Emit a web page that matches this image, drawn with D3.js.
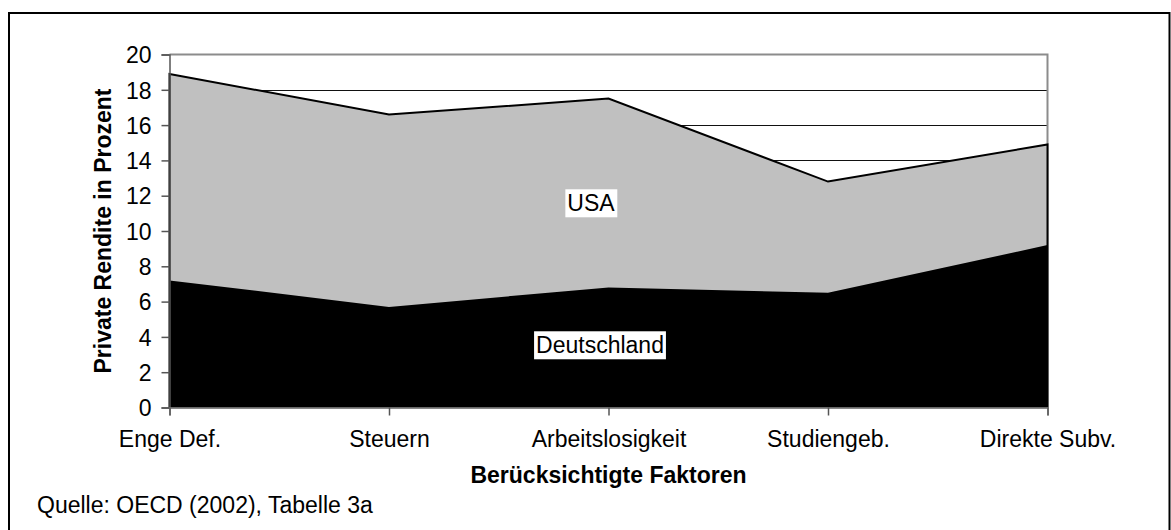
<!DOCTYPE html>
<html>
<head>
<meta charset="utf-8">
<script src="https://cdnjs.cloudflare.com/ajax/libs/d3/7.8.5/d3.min.js"></script>
<style>
  body { margin: 0; background: #fff; }
  svg text { font-family: "Liberation Sans", Arial, sans-serif; fill: #000; }
</style>
</head>
<body>
<svg id="chart" width="1171" height="530"></svg>
<script>
// data
var categories = ["Enge Def.", "Steuern", "Arbeitslosigkeit", "Studiengeb.", "Direkte Subv."];
var usa = [18.9, 16.6, 17.5, 12.8, 14.9];
var deutschland = [7.2, 5.7, 6.8, 6.5, 9.2];
var yTicks = [0, 2, 4, 6, 8, 10, 12, 14, 16, 18, 20];

var m = { top: 54.5, right: 123.5, bottom: 122.5, left: 169.5 },
    W = 1171, H = 530;

var svg = d3.select("#chart");

// outer frame
svg.append("path")
    .attr("d", "M9,531V13H1169.5V531")
    .attr("fill", "none")
    .attr("stroke", "#000")
    .attr("stroke-width", 2);

var x = d3.scalePoint()
    .domain(categories)
    .range([m.left, W - m.right]);

var y = d3.scaleLinear()
    .domain([0, 20])
    .range([H - m.bottom, m.top]);

var g = svg.append("g");

// gridlines
g.selectAll(".grid")
    .data(yTicks.filter(function(d) { return d > 0 && d < 20; }))
    .enter()
    .append("line")
    .attr("x1", m.left)
    .attr("x2", W - m.right)
    .attr("y1", function(d) { return Math.round(y(d)) + 0.5; })
    .attr("y2", function(d) { return Math.round(y(d)) + 0.5; })
    .attr("stroke", "#111")
    .attr("stroke-width", 1);

// plot frame top/right (grey)
g.append("path")
    .attr("d", "M" + m.left + "," + y(20) + "H" + (W - m.right) + "V" + y(0))
    .attr("fill", "none")
    .attr("stroke", "#8c8c8c")
    .attr("stroke-width", 2);

var area = d3.area()
    .x(function(d, i) { return x(categories[i]); })
    .y0(y(0))
    .y1(function(d) { return y(d); });

g.append("path")
    .datum(usa)
    .attr("d", area)
    .attr("fill", "#c0c0c0")
    .attr("stroke", "#000")
    .attr("stroke-width", 2)
    .attr("stroke-linejoin", "miter");

g.append("path")
    .datum(deutschland)
    .attr("d", area)
    .attr("fill", "#000");

// axes
var yAxis = d3.axisLeft(y)
    .tickValues(yTicks)
    .tickSize(8)
    .tickPadding(10);

var gy = svg.append("g")
    .attr("transform", "translate(" + m.left + ",0)")
    .call(yAxis);
gy.select(".domain").attr("stroke", "#555").attr("stroke-width", 1.5);
gy.selectAll(".tick line").attr("stroke", "#555").attr("stroke-width", 1.5);
gy.selectAll(".tick text").style("font-size", "23px").attr("dy", "0.36em");

var xAxis = d3.axisBottom(x)
    .tickSize(8)
    .tickPadding(15);

var gx = svg.append("g")
    .attr("transform", "translate(0," + y(0) + ")")
    .call(xAxis);
gx.select(".domain").attr("stroke", "#8c8c8c").attr("stroke-width", 1.5);
gx.selectAll(".tick line").attr("stroke", "#555").attr("stroke-width", 1.5);
gx.selectAll(".tick text").style("font-size", "23px");

// series labels
function label(txt, cx, cy, padX, padY) {
    var t = svg.append("text")
        .attr("x", cx)
        .attr("y", cy)
        .attr("text-anchor", "middle")
        .attr("dy", "0.36em")
        .style("font-size", "23px")
        .text(txt);
    var b = t.node().getBBox();
    svg.insert("rect", function() { return t.node(); })
        .attr("x", b.x - padX)
        .attr("y", b.y - padY)
        .attr("width", b.width + 2 * padX)
        .attr("height", b.height + 2 * padY)
        .attr("fill", "#fff");
}
label("USA", 591, 203, 2, 1);
label("Deutschland", 600, 345, 2, 1);

// axis titles
svg.append("text")
    .attr("transform", "translate(111," + ((y(0) + y(20)) / 2) + ") rotate(-90)")
    .attr("text-anchor", "middle")
    .style("font-size", "23px")
    .style("font-weight", "bold")
    .text("Private Rendite in Prozent");

svg.append("text")
    .attr("x", (m.left + W - m.right) / 2)
    .attr("y", 483)
    .attr("text-anchor", "middle")
    .style("font-size", "23px")
    .style("font-weight", "bold")
    .text("Berücksichtigte Faktoren");

svg.append("text")
    .attr("x", 37)
    .attr("y", 513)
    .style("font-size", "23px")
    .text("Quelle: OECD (2002), Tabelle 3a");
</script>
</body>
</html>
